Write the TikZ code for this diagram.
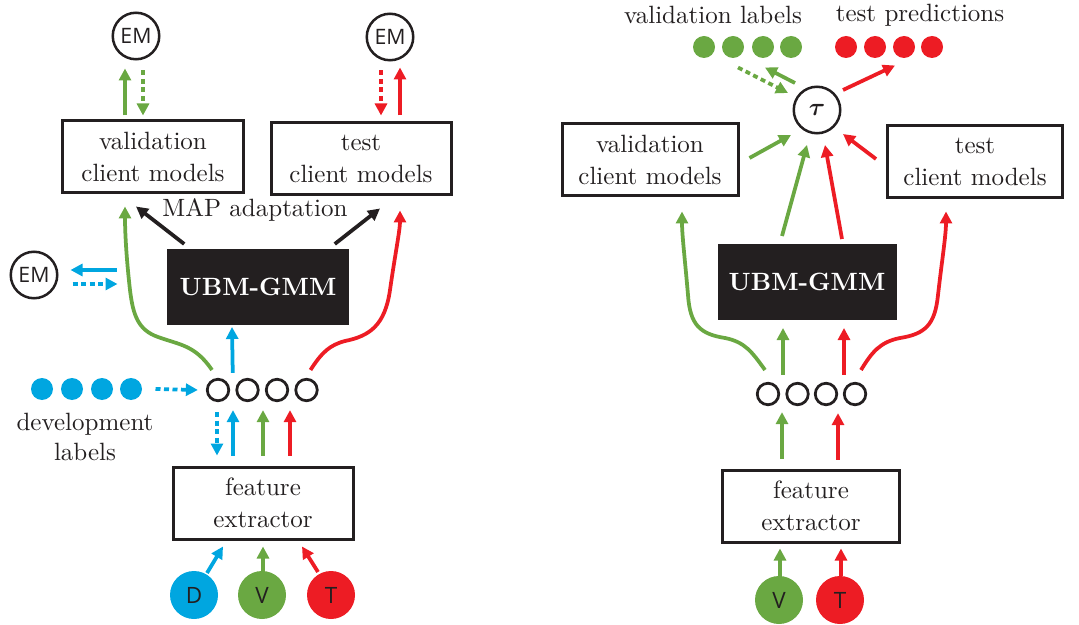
\documentclass[tikz,border=0pt]{standalone}
\usepackage{fontspec}
\usepackage{bm}
\newfontfamily\emfont{Open Sans}
\usetikzlibrary{arrows.meta,calc}
\definecolor{cgreen}{RGB}{106,168,66}
\definecolor{cred}{RGB}{237,28,36}
\definecolor{ccyan}{RGB}{0,166,224}
\definecolor{cblack}{RGB}{35,31,32}
\begin{document}
\begin{tikzpicture}[x=0.4pt,y=-0.4pt,
  box/.style={draw=cblack,line width=1.2pt,minimum width=72pt,minimum height=28.8pt,inner sep=0pt,align=center,text=cblack,font=\fontsize{10}{12.8}\selectfont},
  ubm/.style={fill=cblack,minimum width=73pt,minimum height=30pt,inner sep=0pt,text=white,font=\bfseries\fontsize{10}{12}\selectfont},
  emc/.style={circle,draw=cblack,line width=1pt,minimum size=18.6pt,inner sep=0pt,text=cblack,font=\emfont\fontsize{8.5}{10}\selectfont},
  oc/.style={circle,draw=cblack,line width=1.1pt,minimum size=8.6pt,inner sep=0pt},
  dotc/.style={circle,fill=#1,minimum size=8.8pt,inner sep=0pt},
  src/.style={circle,fill=#1,minimum size=19.2pt,inner sep=0pt,text=cblack,font=\emfont\fontsize{9}{10}\selectfont},
  lbl/.style={align=center,text=cblack,font=\fontsize{10}{12}\selectfont},
  arr/.style={draw=#1,line width=1.5pt,-{Triangle[length=4.8pt,width=4.8pt]}},
  darr/.style={arr=#1,dash pattern=on 2pt off 1.4pt},
  crv/.style={draw=#1,line width=1.5pt,-{Triangle[length=4.8pt,width=4.8pt]}}
]
\useasboundingbox (0,0) rectangle (1079,625);

% ---------------- left panel ----------------
\node[emc] (emA) at (136,36) {EM};
\node[emc] (emB) at (390,37) {EM};
\node[emc] (emC) at (34,275) {EM};
\node[box] (valL) at (153,157) {validation\\client models};
\node[box] (testL) at (361,159) {test\\client models};
\node[lbl] (mapL) at (255,210) {MAP adaptation};
\node[ubm] (ubmL) at (258,287) {UBM-GMM};
\node[oc] (c1) at (218,390) {};
\node[oc] (c2) at (247.5,390) {};
\node[oc] (c3) at (277,390) {};
\node[oc] (c4) at (306.5,390) {};
\node[dotc=ccyan] (d1) at (42,389) {};
\node[dotc=ccyan] (d2) at (72,389) {};
\node[dotc=ccyan] (d3) at (102,389) {};
\node[dotc=ccyan] (d4) at (131,389) {};
\node[lbl] (devL) at (85,437) {development\\labels};
\node[box] (fe) at (263,503) {feature\\extractor};
\node[src=ccyan] (D) at (194,595) {D};
\node[src=cgreen] (V) at (262,595) {V};
\node[src=cred] (T) at (331,595) {T};

\draw[arr=cgreen] ($(valL.north)+(-28,-4)$) -- ($(emA.south)+(-11,8)$);
\draw[darr=cgreen] ($(emA.south)+(7,10)$) -- ($(valL.north)+(-10,-4)$);
\draw[darr=cred] ($(emB.south)+(-9,9)$) -- ($(testL.north)+(20,-6)$);
\draw[arr=cred] ($(testL.north)+(39,-6)$) -- ($(emB.south)+(10,6)$);
\draw[arr=cblack] ($(ubmL.north west)+(18,-5)$) -- ($(valL.south)+(-17,12)$);
\draw[arr=cblack] ($(ubmL.north east)+(-15,-5)$) -- ($(testL.south)+(19,12)$);
\draw[arr=ccyan] ($(emC.east)+(58,-5)$) -- ($(emC.east)+(12,-5)$);
\draw[darr=ccyan] ($(emC.east)+(14,9)$) -- ($(emC.east)+(59,9)$);
\draw[arr=ccyan] ($(c1.north)!.5!(c2.north)+(0,-5)$) -- ($(ubmL.south)+(-26,2)$);
\draw[darr=ccyan] ($(d4.east)+(13,0)$) -- ($(c1.west)+(-8,0)$);
\draw[crv=cgreen] ($(c1)+(-6,-20)$) .. controls (195,345) and (180,345) .. (158,337)
   .. controls (138,330) and (133,315) .. (130,290)
   .. controls (126,255) and (125,230) .. ($(valL.south)+(-28,12)$);
\draw[crv=cred] ($(c4)+(4,-20)$) .. controls (322,352) and (330,345) .. (345,341)
   .. controls (370,336) and (385,325) .. (390,290)
   .. controls (395,255) and (400,230) .. ($(testL.south)+(39,14)$);
\draw[darr=ccyan] ($(c1.south)+(-1,10)$) -- ($(fe.north)+(-46,-10)$);
\draw[arr=ccyan] ($(fe.north)+(-30,-10)$) -- ($(c1.south)+(15,8)$);
\draw[arr=cgreen] ($(fe.north)+(0,-10)$) -- ($(c2.south)+(15.5,8)$);
\draw[arr=cred] ($(fe.north)+(27,-10)$) -- ($(c3.south)+(13,8)$);
\draw[arr=ccyan] ($(D)+(13,-22)$) -- ($(fe.south)+(-40,6)$);
\draw[arr=cgreen] ($(V.north)+(1,1)$) -- ($(fe.south)+(0,6)$);
\draw[arr=cred] ($(T)+(-13,-23)$) -- ($(fe.south)+(39,6)$);

% ---------------- right panel ----------------
\node[lbl] (vlab) at (713,15) {validation labels};
\node[lbl] (tpred) at (920,15) {test predictions};
\node[dotc=cgreen] (gd1) at (704,47) {};
\node[dotc=cgreen] (gd2) at (733,47) {};
\node[dotc=cgreen] (gd3) at (763,47) {};
\node[dotc=cgreen] (gd4) at (791,47) {};
\node[dotc=cred] (rd1) at (846,47) {};
\node[dotc=cred] (rd2) at (875,47) {};
\node[dotc=cred] (rd3) at (904,47) {};
\node[dotc=cred] (rd4) at (932,47) {};
\node[emc,font=\fontsize{10}{12}\selectfont] (tau) at (817,110) {$\bm{\tau}$};
\node[box,minimum width=70.4pt] (valR) at (650,160) {validation\\client models};
\node[box,minimum width=70pt] (testR) at (975,162) {test\\client models};
\node[ubm,minimum width=71.6pt] (ubmR) at (807,282) {UBM-GMM};
\node[oc] (rc1) at (768,394) {};
\node[oc] (rc2) at (797.5,394) {};
\node[oc] (rc3) at (826,394) {};
\node[oc] (rc4) at (855,394) {};
\node[box,minimum width=70.8pt] (feR) at (811,506) {feature\\extractor};
\node[src=cgreen] (VR) at (779,600) {V};
\node[src=cred] (TR) at (840,600) {T};

\draw[darr=cgreen] ($(gd2.south)+(5,9)$) -- ($(tau)+(-29,-17)$);
\draw[arr=cgreen] ($(tau)+(-22,-27)$) -- ($(gd3.south)+(2,9)$);
\draw[arr=cred] ($(tau)+(26,-20)$) -- ($(rd2.south)+(20,7)$);
\draw[arr=cgreen] ($(valR.east)+(10,-2)$) -- ($(tau)+(-26,25)$);
\draw[arr=cred] ($(testR.west)+(-10,-3)$) -- ($(tau)+(26,24)$);
\draw[arr=cgreen] ($(ubmR.north)+(-25,-8)$) -- ($(tau)+(-10,35)$);
\draw[arr=cred] ($(ubmR.north)+(35,-5)$) -- ($(tau)+(8,35)$);
\draw[crv=cgreen] ($(rc1)+(-3,-24)$) .. controls (752,352) and (745,342) .. (725,338)
   .. controls (700,334) and (690,325) .. (688,295)
   .. controls (685,260) and (682,235) .. ($(valR.south)+(32,14)$);
\draw[crv=cred] ($(rc4)+(6,-24)$) .. controls (872,352) and (880,342) .. (900,338)
   .. controls (925,334) and (935,325) .. (938,295)
   .. controls (942,260) and (946,235) .. ($(testR.south)+(-29,12)$);
\draw[arr=cgreen] ($(rc1.north)+(15,-7)$) -- ($(ubmR.south)+(-24,8)$);
\draw[arr=cred] ($(rc3.north)+(18,-7)$) -- ($(ubmR.south)+(37,8)$);
\draw[arr=cgreen] ($(feR.north)+(-29,-10)$) -- ($(rc1.south)+(14,6)$);
\draw[arr=cred] ($(feR.north)+(27,-9)$) -- ($(rc3.south)+(12,7)$);
\draw[arr=cgreen] ($(VR.north)+(1,1)$) -- ($(feR.south)+(-31,5)$);
\draw[arr=cred] ($(TR.north)+(1,0)$) -- ($(feR.south)+(30,5)$);
\end{tikzpicture}
\end{document}
